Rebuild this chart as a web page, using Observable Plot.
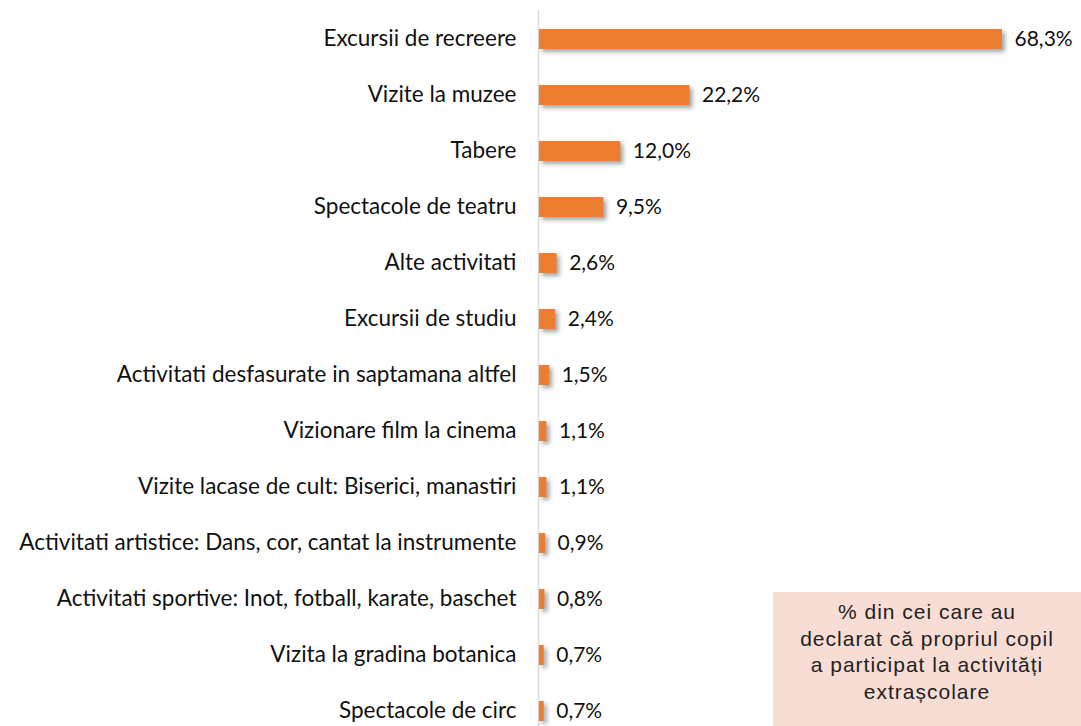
<!DOCTYPE html>
<html>
<head>
<meta charset="utf-8">
<script src="https://cdn.jsdelivr.net/npm/d3@7"></script>
<script src="https://cdn.jsdelivr.net/npm/@observablehq/plot@0.6"></script>
<style>
  html, body { margin: 0; padding: 0; background: #fff; }
  #wrap { position: relative; width: 1081px; height: 726px; overflow: hidden; }
  #note {
    position: absolute; left: 773px; top: 592px; width: 308px; height: 140px;
    background: #F8DDD4; color: #222;
    font-family: "Liberation Sans", Arial, sans-serif; font-size: 21px; letter-spacing: 1px;
    line-height: 26.5px; text-align: center; padding-top: 7px; box-sizing: border-box;
  }
  g[aria-label="bar"] { filter: drop-shadow(3px 3px 2px rgba(0,0,0,0.35)); }
</style>
</head>
<body>
<div id="wrap"></div>
<script>
const categories = [
  "Excursii de recreere",
  "Vizite la muzee",
  "Tabere",
  "Spectacole de teatru",
  "Alte activitati",
  "Excursii de studiu",
  "Activitati desfasurate in saptamana altfel",
  "Vizionare film la cinema",
  "Vizite lacase de cult: Biserici, manastiri",
  "Activitati artistice: Dans, cor, cantat la instrumente",
  "Activitati sportive: Inot, fotball, karate, baschet",
  "Vizita la gradina botanica",
  "Spectacole de circ"
];
const values = [68.3, 22.2, 12.0, 9.5, 2.6, 2.4, 1.5, 1.1, 1.1, 0.9, 0.8, 0.7, 0.7];
const noteLines = [
  "% din cei care au",
  "declarat că propriul copil",
  "a participat la activități",
  "extrașcolare"
];

const data = categories.map((c, i) => ({category: c, value: values[i]}));
const fmt = v => v.toFixed(1).replace(".", ",") + "%";

const chart = Plot.plot({
  width: 1081,
  height: 726,
  marginLeft: 539,
  marginRight: 79,
  marginTop: 10,
  marginBottom: 0,
  style: {fontFamily: "Lato, sans-serif", fontSize: "22px", color: "#111", background: "#fff"},
  x: {domain: [0, 68.3], axis: null},
  y: {domain: categories, paddingInner: 0.64, paddingOuter: 0, insetTop: 19, insetBottom: 4, axis: null},
  marks: [
    Plot.ruleX([0], {stroke: "#D9D9D9", strokeWidth: 1.5, dx: -1}),
    Plot.barX(data, {x: "value", y: "category", fill: "#ED7D31"}),
    Plot.text(data, {x: 0, y: "category", text: "category", textAnchor: "end", dx: -23, dy: -1, fill: "#111", fontSize: 22.5}),
    Plot.text(data, {x: "value", y: "category", text: d => fmt(d.value), textAnchor: "start", dx: 12, fill: "#111", fontSize: 21})
  ]
});
document.getElementById("wrap").appendChild(chart);
const note = document.createElement("div");
note.id = "note";
note.innerHTML = noteLines.map(l => `<div>${l}</div>`).join("");
document.getElementById("wrap").appendChild(note);
</script>
</body>
</html>
